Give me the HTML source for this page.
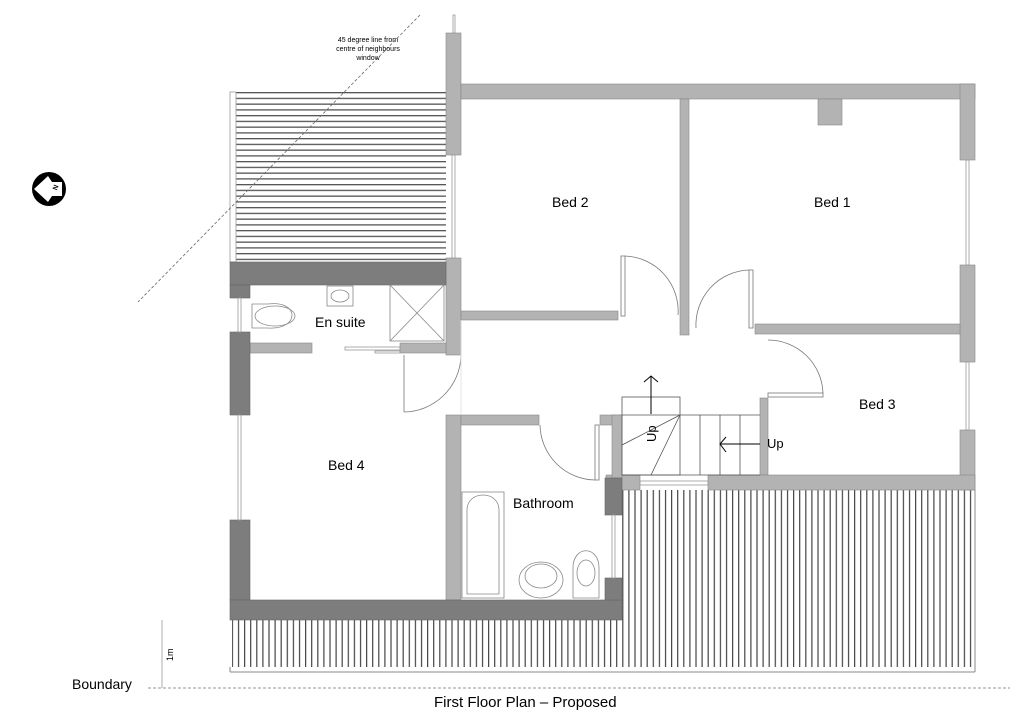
<!DOCTYPE html>
<html><head><meta charset="utf-8"><style>
html,body{margin:0;padding:0;background:#fff}
svg{display:block}
text{font-family:"Liberation Sans",sans-serif;fill:#000}
</style></head><body>
<svg width="1024" height="724" viewBox="0 0 1024 724" xmlns="http://www.w3.org/2000/svg">
<defs>
<pattern id="hz" width="10" height="5.75" patternUnits="userSpaceOnUse"><rect width="10" height="5.75" fill="#fff"/><rect y="0" width="10" height="1.3" fill="#555"/></pattern>
<pattern id="vt" width="6.1" height="10" patternUnits="userSpaceOnUse"><rect width="6.1" height="10" fill="#fff"/><rect x="0" width="1.2" height="10" fill="#444"/></pattern>
</defs>
<rect x="236" y="92" width="210" height="170" fill="url(#hz)"/>
<rect x="230" y="92" width="6" height="170" fill="#fff" stroke="#999" stroke-width="0.8"/>
<rect x="232" y="620" width="390" height="47" fill="url(#vt)"/>
<rect x="622" y="490" width="353" height="177" fill="url(#vt)"/>
<line x1="230" y1="672" x2="975" y2="672" stroke="#888" stroke-width="1"/>
<line x1="230" y1="667" x2="230" y2="672" stroke="#888"/>
<line x1="975" y1="490" x2="975" y2="672" stroke="#888"/>
<line x1="420" y1="15" x2="138" y2="302" stroke="#666" stroke-width="0.8" stroke-dasharray="3,2"/>
<text x="368" y="42" font-size="7" text-anchor="middle">45 degree line from</text>
<text x="368" y="51" font-size="7" text-anchor="middle">centre of neighbours</text>
<text x="368" y="60" font-size="7" text-anchor="middle">window</text>
<circle cx="49" cy="189" r="17" fill="#000"/>
<polygon points="34,189 48,176 52,182 62,182 62,196 52,196 48,202" fill="#fff"/>
<text x="55" y="192" font-size="7" font-weight="bold" transform="rotate(-70 55 190)">N</text>
<g fill="#b3b3b3" stroke="#888" stroke-width="0.6">
<rect x="446" y="33" width="15" height="122"/>
<rect x="461" y="84" width="514" height="15"/>
<rect x="960" y="84" width="15" height="76"/>
<rect x="960" y="265" width="15" height="97"/>
<rect x="960" y="430" width="15" height="60"/>
<rect x="446" y="258" width="15" height="97"/>
<rect x="461" y="311" width="157" height="9"/>
<rect x="680" y="99" width="9" height="236"/>
<rect x="818" y="99" width="24" height="26"/>
<rect x="755" y="324" width="205" height="10"/>
<rect x="760" y="398" width="8" height="77"/>
<rect x="708" y="475" width="267" height="15"/>
<rect x="606" y="475" width="34" height="15"/>
<rect x="446" y="415" width="15" height="185"/>
<rect x="461" y="415" width="78" height="10"/>
<rect x="600" y="415" width="22" height="10"/>
<rect x="612" y="415" width="10" height="63"/>
<rect x="250" y="343" width="62" height="10"/>
<rect x="400" y="343" width="46" height="10"/>
</g>
<g fill="#7d7d7d" stroke="#666" stroke-width="0.6">
<rect x="230" y="262" width="216" height="23"/>
<rect x="230" y="285" width="20" height="13"/>
<rect x="230" y="332" width="20" height="83"/>
<rect x="230" y="520" width="20" height="80"/>
<rect x="230" y="600" width="392" height="20"/>
<rect x="605" y="478" width="17" height="37"/>
<rect x="605" y="578" width="17" height="22"/>
</g>
<g fill="none" stroke="#999" stroke-width="0.8">
<rect x="453" y="15" width="2" height="18"/>
<rect x="452" y="155" width="3" height="103"/>
<rect x="966" y="160" width="3" height="105"/>
<rect x="966" y="362" width="3" height="68"/>
<rect x="238" y="298" width="3" height="34"/>
<rect x="238" y="415" width="3" height="105"/>
<rect x="612" y="515" width="3" height="63"/>
<rect x="640" y="481" width="68" height="4"/>
<rect x="345" y="347" width="55" height="3"/>
<rect x="375" y="351" width="25" height="2"/>
</g>
<g fill="none" stroke="#777" stroke-width="0.8">
<rect x="621" y="256" width="4" height="60"/><path d="M625,256 A55,55 0 0 1 678,315"/>
<rect x="749" y="270" width="4" height="58"/><path d="M749,270 A55,55 0 0 0 696,328"/>
<rect x="768" y="393" width="55" height="4"/><path d="M768,340 A55,55 0 0 1 823,393"/>
<rect x="595" y="425" width="4" height="55"/><path d="M540,425 A56,56 0 0 0 595,480"/>
<path d="M461,356 A58,58 0 0 1 404,412"/><line x1="404" y1="355" x2="404" y2="412"/>
<line x1="461" y1="320" x2="461" y2="415" stroke="#ddd"/>
</g>
<g fill="none" stroke="#555" stroke-width="0.8">
<rect x="622" y="397" width="58" height="78"/>
<line x1="622" y1="415" x2="760" y2="415"/>
<line x1="622" y1="475" x2="760" y2="475"/>
<line x1="700" y1="415" x2="700" y2="475"/><line x1="720" y1="415" x2="720" y2="475"/><line x1="740" y1="415" x2="740" y2="475"/>
<line x1="680" y1="415" x2="622" y2="445"/><line x1="680" y1="415" x2="651" y2="475"/>
</g>
<g fill="none" stroke="#000" stroke-width="1">
<line x1="651" y1="376" x2="651" y2="414"/><path d="M644,382 L651,376 L658,382"/>
<line x1="720" y1="444" x2="760" y2="444"/><path d="M726,437 L720,444 L726,452"/>
</g>
<text x="0" y="0" font-size="13" transform="translate(656 442) rotate(-90)">Up</text>
<text x="767" y="448" font-size="13">Up</text>
<g fill="none" stroke="#888" stroke-width="0.8">
<rect x="390" y="285" width="54" height="56"/><line x1="390" y1="285" x2="444" y2="341"/><line x1="444" y1="285" x2="390" y2="341"/>
<rect x="327" y="286" width="26" height="20"/><ellipse cx="340" cy="296" rx="9" ry="6"/>
<path d="M252,304 L268,304 C300,300 300,330 268,328 L252,328 Z"/><ellipse cx="275" cy="316" rx="20" ry="10"/>
<rect x="462" y="492" width="42" height="106"/><path d="M467,594 L467,510 C467,490 499,490 499,510 L499,594 Z"/>
<ellipse cx="541" cy="580" rx="22" ry="18"/><ellipse cx="541" cy="576" rx="16" ry="12"/>
<path d="M573,598 L573,568 C573,545 599,545 599,568 L599,598 Z"/><ellipse cx="586" cy="573" rx="9" ry="13"/>
</g>
<text x="552" y="207" font-size="14">Bed 2</text>
<text x="814" y="207" font-size="14">Bed 1</text>
<text x="859" y="409" font-size="14">Bed 3</text>
<text x="328" y="470" font-size="14">Bed 4</text>
<text x="315" y="327" font-size="14">En suite</text>
<text x="513" y="508" font-size="14">Bathroom</text>
<text x="72" y="689" font-size="14">Boundary</text>
<text x="434" y="707" font-size="15">First Floor Plan – Proposed</text>
<line x1="148" y1="688" x2="1010" y2="688" stroke="#777" stroke-width="0.8" stroke-dasharray="3,2"/>
<line x1="162" y1="620" x2="162" y2="688" stroke="#999" stroke-width="0.8"/>
<text x="0" y="0" font-size="9" transform="translate(173 661) rotate(-90)">1m</text>
</svg>
</body></html>
